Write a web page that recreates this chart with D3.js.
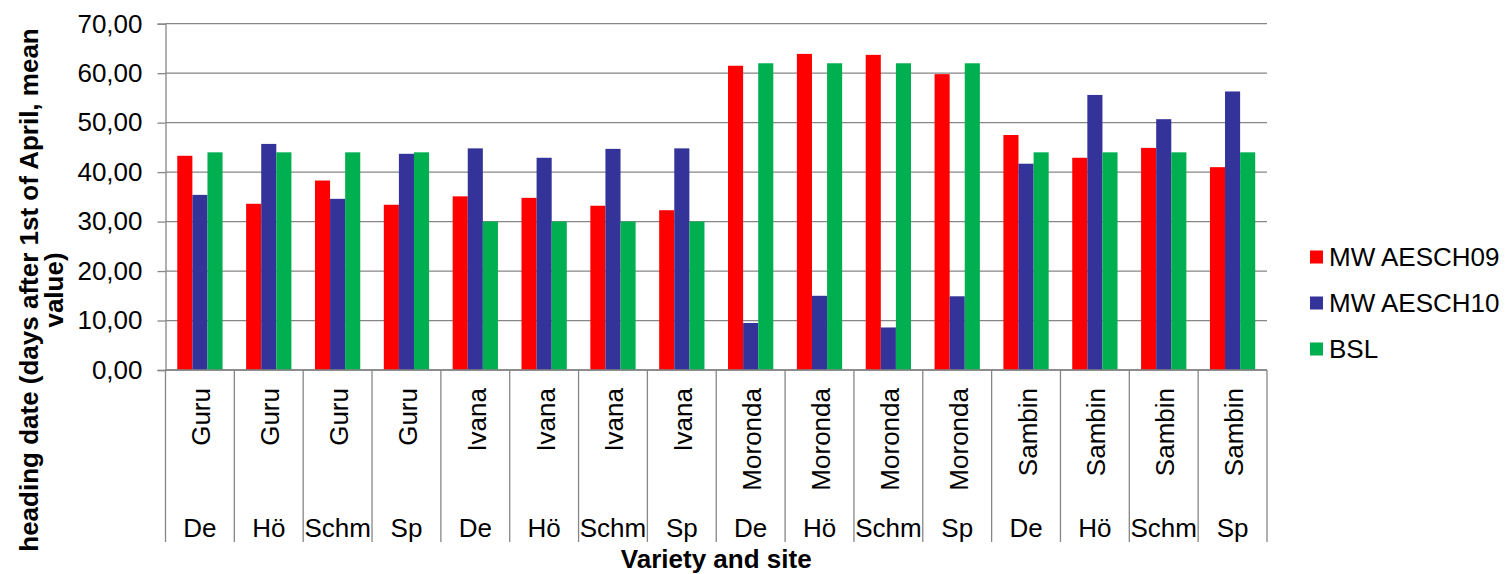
<!DOCTYPE html>
<html>
<head>
<meta charset="utf-8">
<script src="https://cdn.jsdelivr.net/npm/d3@7"></script>
<style>
  html, body { margin: 0; padding: 0; background: #fff; }
  svg { display: block; font-family: "Liberation Sans", Arial, sans-serif; }
</style>
</head>
<body>
<svg id="chart" width="1505" height="574"></svg>
<script>
// Heading date by variety and site
const varieties = ["Guru", "Guru", "Guru", "Guru", "Ivana", "Ivana", "Ivana", "Ivana",
                   "Moronda", "Moronda", "Moronda", "Moronda", "Sambin", "Sambin", "Sambin", "Sambin"];
const sites = ["De", "Hö", "Schm", "Sp", "De", "Hö", "Schm", "Sp",
               "De", "Hö", "Schm", "Sp", "De", "Hö", "Schm", "Sp"];
const seriesNames = ["MW AESCH09", "MW AESCH10", "BSL"];
const aesch09 = [43.3, 33.6, 38.3, 33.4, 35.1, 34.8, 33.2, 32.3,
                 61.5, 63.9, 63.7, 59.8, 47.5, 42.9, 44.9, 41.0];
const aesch10 = [35.4, 45.7, 34.6, 43.7, 44.8, 42.9, 44.7, 44.8,
                 9.5, 15.0, 8.6, 14.9, 41.7, 55.6, 50.7, 56.3];
const bsl = [44, 44, 44, 44, 30, 30, 30, 30,
             62, 62, 62, 62, 44, 44, 44, 44];
const yTicks = [0, 10, 20, 30, 40, 50, 60, 70];
const colors = ["#FF0000", "#333399", "#00B050"];

const series = [aesch09, aesch10, bsl];
const cats = d3.range(varieties.length);

const svg = d3.select("#chart");
const plot = { left: 165.5, right: 1267, top: 23.7, bottom: 370 };
const labelBottom = 542;
const gridColor = "#868686";
const fontSize = 26;

const x = d3.scaleBand().domain(cats).range([plot.left, plot.right]).paddingInner(0).paddingOuter(0);
const inner = d3.scaleBand().domain(d3.range(series.length))
  .range([0, x.bandwidth()]).paddingInner(0).paddingOuter(0.78);
const y = d3.scaleLinear().domain([0, 70]).range([plot.bottom, plot.top]);

// horizontal gridlines
svg.append("g").selectAll("line").data(yTicks).join("line")
  .attr("x1", plot.left).attr("x2", plot.right)
  .attr("y1", d => y(d)).attr("y2", d => y(d))
  .attr("stroke", gridColor).attr("stroke-width", 1.3);

// bars
const bars = svg.append("g");
series.forEach((vals, si) => {
  bars.selectAll(null).data(cats).join("rect")
    .attr("x", i => x(i) + inner(si))
    .attr("width", inner.bandwidth())
    .attr("y", i => y(vals[i]))
    .attr("height", i => y(0) - y(vals[i]))
    .attr("fill", colors[si]);
});

// y axis
const yAxis = d3.axisLeft(y).tickValues(yTicks).tickSize(8).tickPadding(15)
  .tickFormat(d => d3.format(".2f")(d).replace(".", ","));
const gy = svg.append("g").attr("transform", `translate(${plot.left},0)`).call(yAxis);
gy.select(".domain").attr("stroke", gridColor).attr("stroke-width", 1.3);
gy.selectAll(".tick line").attr("stroke", gridColor).attr("stroke-width", 1.3);
gy.selectAll(".tick text").attr("font-size", fontSize).attr("fill", "#000")
  .attr("font-family", "Liberation Sans, Arial, sans-serif");

// x axis baseline and category dividers
svg.append("line").attr("x1", plot.left).attr("x2", plot.right)
  .attr("y1", plot.bottom).attr("y2", plot.bottom)
  .attr("stroke", gridColor).attr("stroke-width", 1.3);
const dividers = cats.map(i => x(i)).concat([plot.right]);
svg.append("g").selectAll("line").data(dividers).join("line")
  .attr("x1", d => d).attr("x2", d => d)
  .attr("y1", plot.bottom).attr("y2", labelBottom)
  .attr("stroke", gridColor).attr("stroke-width", 1.3);

// variety labels (rotated, reading upward)
svg.append("g").selectAll("text").data(cats).join("text")
  .attr("transform", i => `translate(${x(i) + x.bandwidth() / 2 + 10.5},388) rotate(-90)`)
  .attr("text-anchor", "end")
  .attr("font-size", fontSize)
  .text(i => varieties[i]);

// site labels
svg.append("g").selectAll("text").data(cats).join("text")
  .attr("x", i => x(i) + x.bandwidth() / 2)
  .attr("y", 537)
  .attr("text-anchor", "middle")
  .attr("font-size", fontSize)
  .text(i => sites[i]);

// axis titles
svg.append("text")
  .attr("x", (plot.left + plot.right) / 2).attr("y", 568)
  .attr("text-anchor", "middle").attr("font-size", fontSize).attr("font-weight", "bold")
  .text("Variety and site");

const yTitle = svg.append("text")
  .attr("transform", "translate(0,290) rotate(-90)")
  .attr("text-anchor", "middle").attr("font-size", fontSize).attr("font-weight", "bold");
yTitle.append("tspan").attr("x", 0).attr("y", 38).text("heading date (days after 1st of April, mean");
yTitle.append("tspan").attr("x", 0).attr("y", 63).text("value)");

// legend
const legend = svg.append("g").attr("transform", "translate(1310,0)");
const legY = d3.scalePoint().domain(seriesNames).range([257, 349]);
seriesNames.forEach((name, si) => {
  legend.append("rect")
    .attr("x", 0).attr("y", legY(name) - 6.5)
    .attr("width", 13).attr("height", 13)
    .attr("fill", colors[si]);
  legend.append("text")
    .attr("x", 19).attr("y", legY(name) + 9.3)
    .attr("font-size", fontSize)
    .text(name);
});
</script>
</body>
</html>
